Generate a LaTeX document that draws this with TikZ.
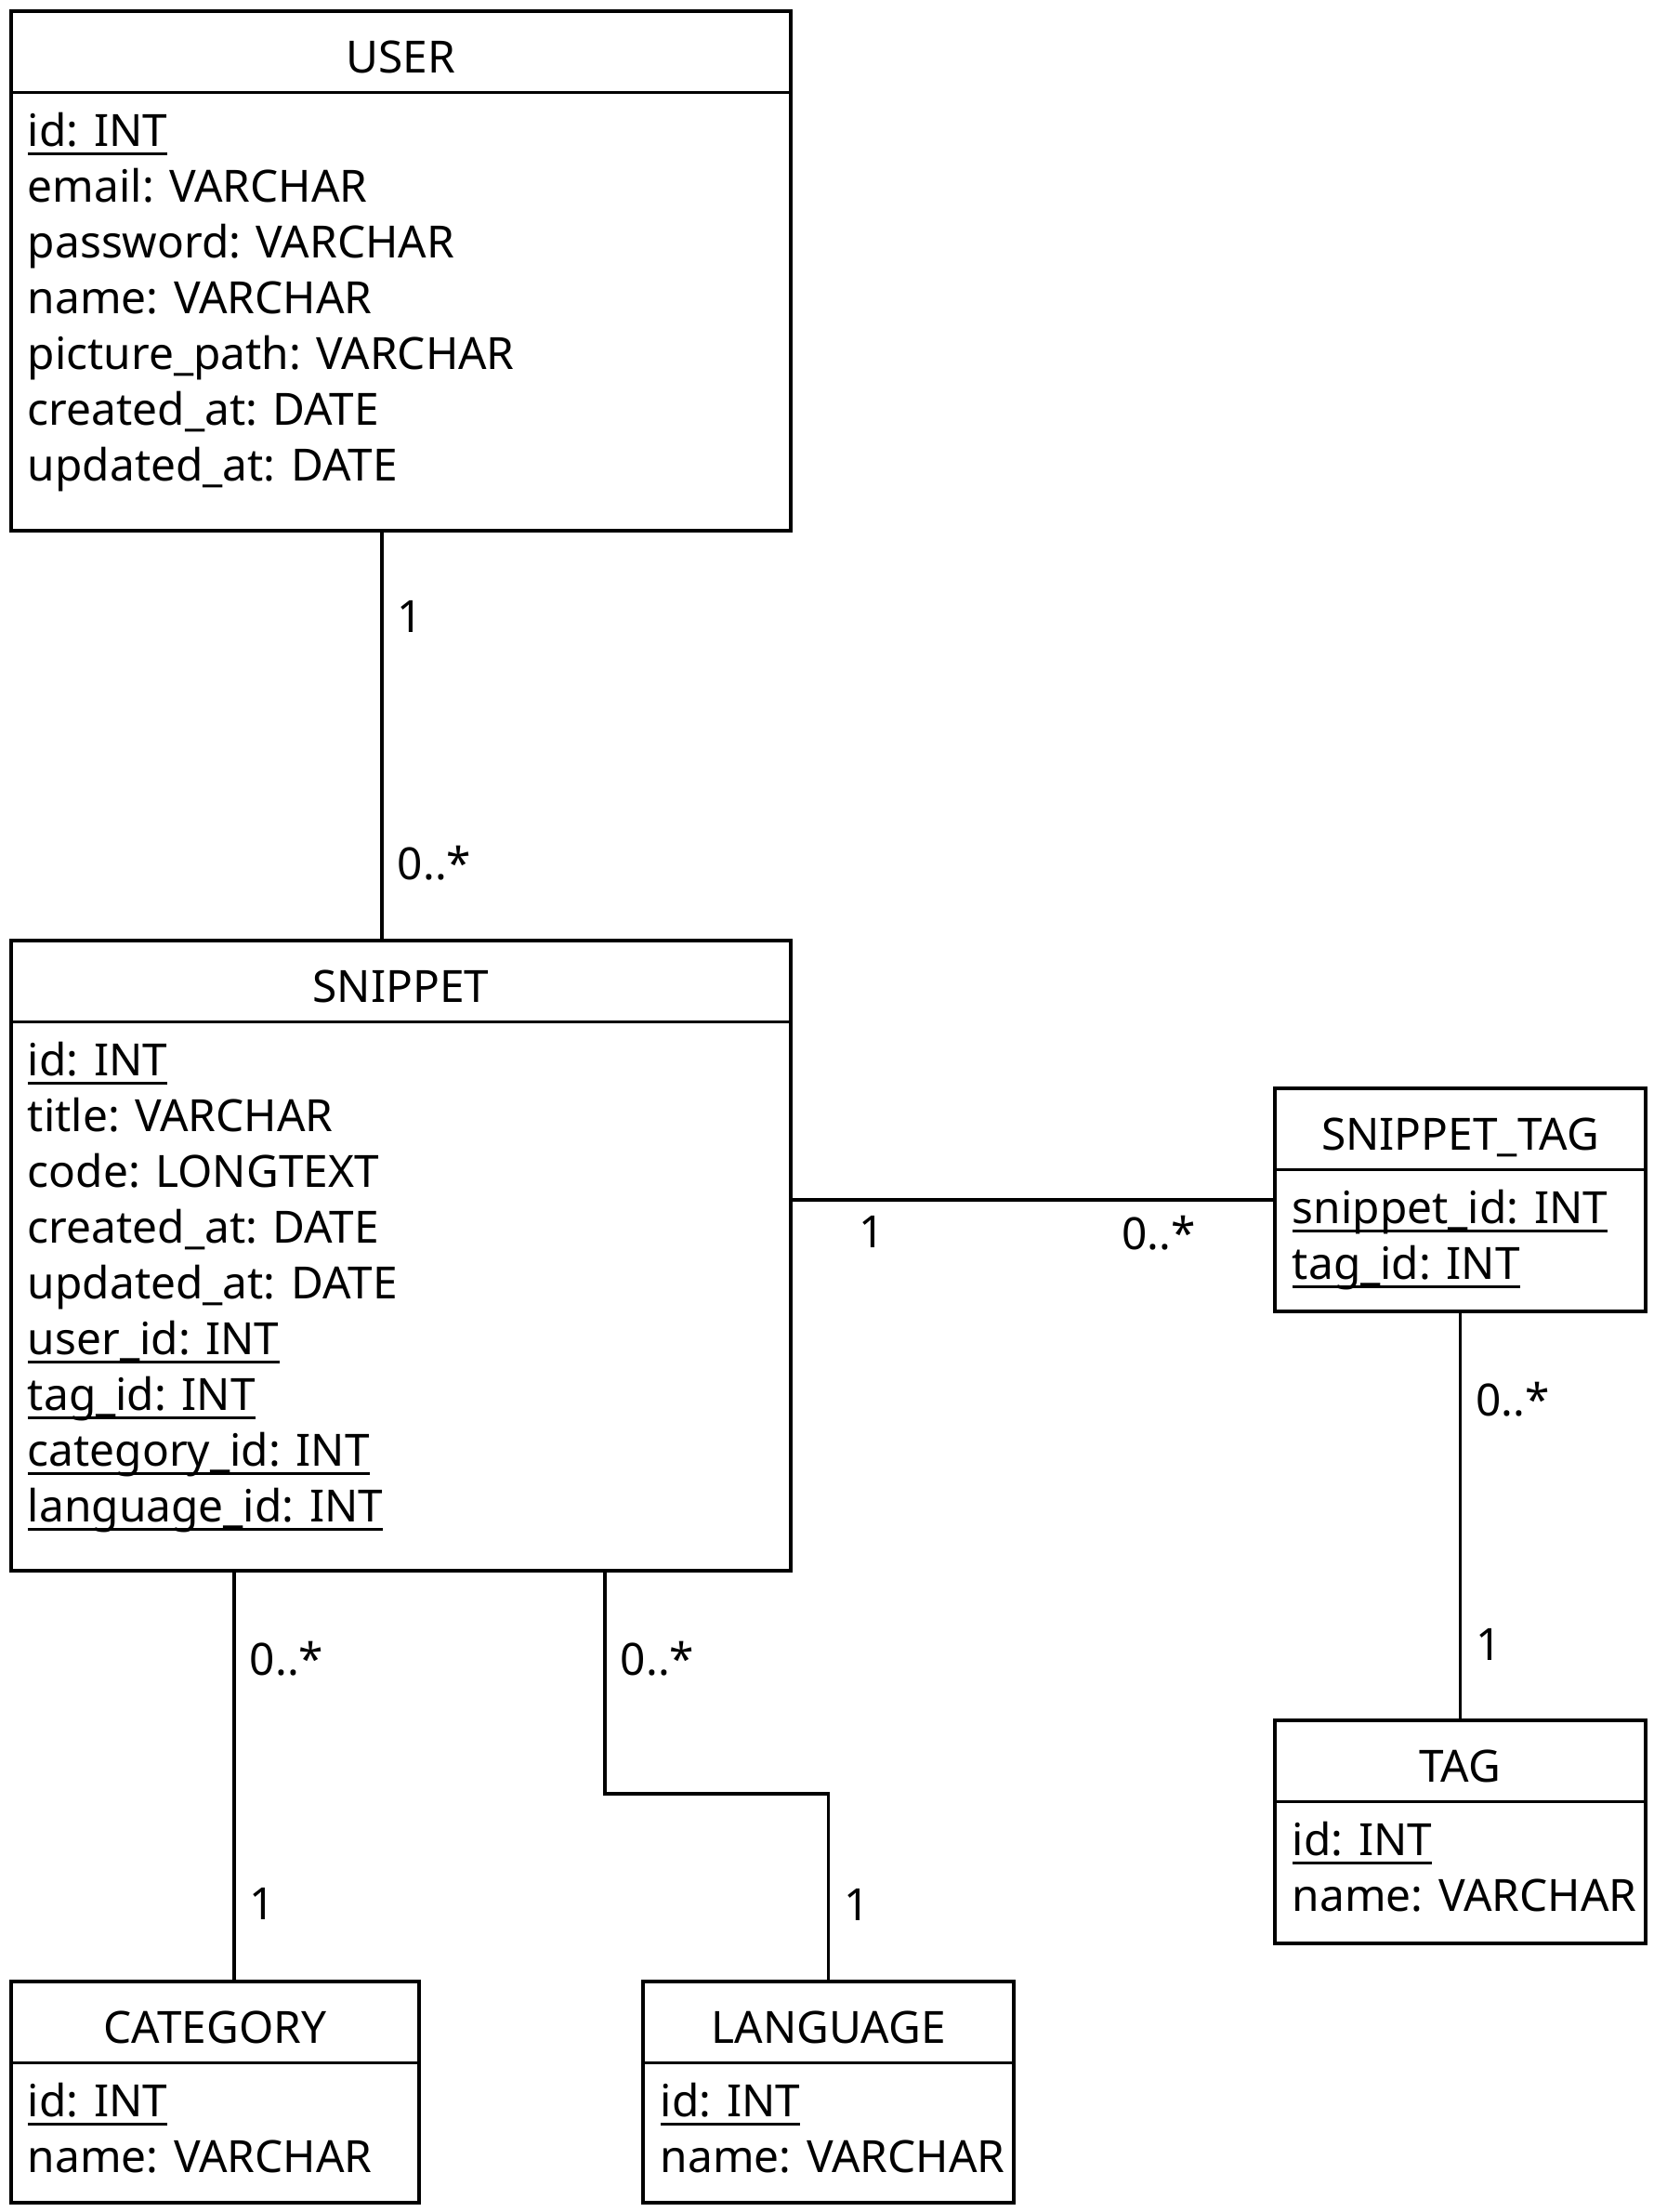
\documentclass[tikz,border=0pt]{standalone}
\usepackage{fontspec}
\setmainfont{Noto Sans}
\usepackage{tikz}
\usetikzlibrary{calc}

% underlined key column
\newcommand{\keyfield}[1]{\setbox0=\hbox{#1}\rlap{\rule[-0.2em]{\wd0}{0.06em}}\box0}

\begin{document}
\begin{tikzpicture}[line width=1.1pt, font=\fontsize{13.6}{16}\selectfont,
  entity/.style={draw, rectangle, inner sep=0, outer sep=0, anchor=north west},
  entitytitle/.style={anchor=base, inner sep=0},
  entityfield/.style={anchor=base west, inner sep=0},
  mult/.style={inner sep=0.15cm}]
\useasboundingbox (0,0) rectangle (17.8,-23.8);
%%%%% User %%%%%
\node[entity, minimum width=8.39cm, minimum height=5.59cm] (user) at (0.12,-0.12) {};
\node[entitytitle] (user-t) at ($(user.north)+(0,-0.66)$) {USER};
\draw ($(user.north west)+(0,-0.875)$) -- ($(user.north east)+(0,-0.875)$);
\foreach \f [count=\i] in {{\keyfield{id: INT}}, email: VARCHAR, password: VARCHAR, name: VARCHAR,
  picture\_path: VARCHAR, created\_at: DATE, updated\_at: DATE}{
\node[entityfield] (user-\i) at ($(user.north west)+(0.16,{-1.45-0.6*(\i-1)})$) {\f};
}
%%%%% Snippet %%%%%
\node[entity, minimum width=8.39cm, minimum height=6.78cm] (snippet) at (0.12,-10.12) {};
\node[entitytitle] (snippet-t) at ($(snippet.north)+(0,-0.66)$) {SNIPPET};
\draw ($(snippet.north west)+(0,-0.875)$) -- ($(snippet.north east)+(0,-0.875)$);
\foreach \f [count=\i] in {{\keyfield{id: INT}}, title: VARCHAR, code: LONGTEXT, created\_at: DATE,
  updated\_at: DATE, {\keyfield{user\_id: INT}}, {\keyfield{tag\_id: INT}},
  {\keyfield{category\_id: INT}}, {\keyfield{language\_id: INT}}}{
\node[entityfield] (snippet-\i) at ($(snippet.north west)+(0.16,{-1.45-0.6*(\i-1)})$) {\f};
}
%%%%% Snippet_Tag %%%%%
\node[entity, minimum width=3.99cm, minimum height=2.40cm] (snippettag) at (13.72,-11.71) {};
\node[entitytitle] (snippettag-t) at ($(snippettag.north)+(0,-0.66)$) {SNIPPET\_TAG};
\draw ($(snippettag.north west)+(0,-0.875)$) -- ($(snippettag.north east)+(0,-0.875)$);
\foreach \f [count=\i] in {{\keyfield{snippet\_id: INT}}, {\keyfield{tag\_id: INT}}}{
\node[entityfield] (snippettag-\i) at ($(snippettag.north west)+(0.17,{-1.45-0.6*(\i-1)})$) {\f};
}
%%%%% Tag %%%%%
\node[entity, minimum width=3.99cm, minimum height=2.40cm] (tag) at (13.72,-18.51) {};
\node[entitytitle] (tag-t) at ($(tag.north)+(0,-0.66)$) {TAG};
\draw ($(tag.north west)+(0,-0.875)$) -- ($(tag.north east)+(0,-0.875)$);
\foreach \f [count=\i] in {{\keyfield{id: INT}}, name: VARCHAR}{
\node[entityfield] (tag-\i) at ($(tag.north west)+(0.17,{-1.45-0.6*(\i-1)})$) {\f};
}
%%%%% Category %%%%%
\node[entity, minimum width=4.39cm, minimum height=2.38cm] (category) at (0.12,-21.32) {};
\node[entitytitle] (category-t) at ($(category.north)+(0,-0.66)$) {CATEGORY};
\draw ($(category.north west)+(0,-0.875)$) -- ($(category.north east)+(0,-0.875)$);
\foreach \f [count=\i] in {{\keyfield{id: INT}}, name: VARCHAR}{
\node[entityfield] (category-\i) at ($(category.north west)+(0.16,{-1.45-0.6*(\i-1)})$) {\f};
}
%%%%% Language %%%%%
\node[entity, minimum width=3.99cm, minimum height=2.38cm] (language) at (6.92,-21.32) {};
\node[entitytitle] (language-t) at ($(language.north)+(0,-0.66)$) {LANGUAGE};
\draw ($(language.north west)+(0,-0.875)$) -- ($(language.north east)+(0,-0.875)$);
\foreach \f [count=\i] in {{\keyfield{id: INT}}, name: VARCHAR}{
\node[entityfield] (language-\i) at ($(language.north west)+(0.17,{-1.45-0.6*(\i-1)})$) {\f};
}
%%%%% Relations %%%%%
\coordinate (us-x) at (4.11,0);
\coordinate (st-y) at (0,-12.91);
\coordinate (sc-x) at (2.52,0);
\coordinate (bend-a) at (6.51,-19.30);
\draw (user.south -| us-x) -- node[mult, pos=0.21, right] {1} node[mult, pos=0.81, right] {0..*} (snippet.north -| us-x);
\draw (snippet.east |- st-y) -- node[mult, pos=0.167, below] {1} node[mult, pos=0.76, below] {0..*} (snippettag.west |- st-y);
\draw (snippettag.south) -- node[mult, pos=0.214, right] {0..*} node[mult, pos=0.814, right] {1} (tag.north);
\draw (snippet.south -| sc-x) -- node[mult, pos=0.215, right] {0..*} node[mult, pos=0.812, right] {1} (category.north -| sc-x);
\draw (snippet.south -| bend-a) -- node[mult, pos=0.396, right] {0..*} (bend-a) -- (bend-a -| language.north)
  -- node[mult, pos=0.589, right] {1} (language.north);
\end{tikzpicture}
\end{document}
